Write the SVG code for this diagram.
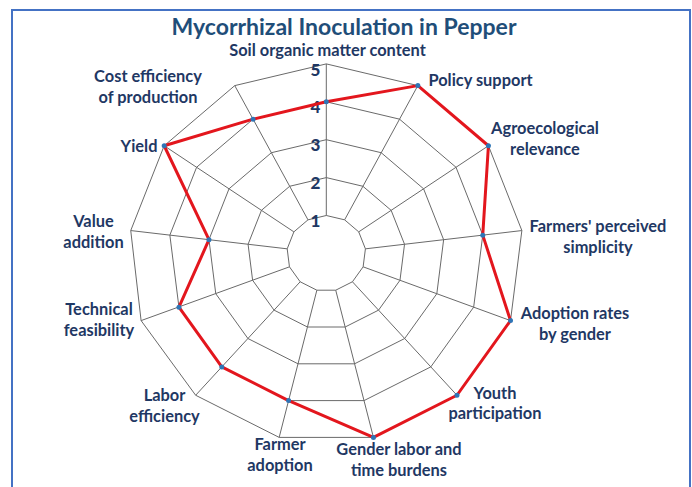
<svg xmlns="http://www.w3.org/2000/svg" width="692" height="487" viewBox="0 0 692 487">
<style>
.lbl{font-family:Lato,"Liberation Sans",sans-serif;font-weight:bold;font-size:16.4px;fill:#1F3864;text-anchor:middle}
.num{font-family:Lato,"Liberation Sans",sans-serif;font-weight:900;font-size:17px;fill:#1F3864;text-anchor:middle}
.title{font-family:Lato,"Liberation Sans",sans-serif;font-weight:bold;font-size:23px;fill:#1F4E79;text-anchor:middle}
.grid{fill:none;stroke:#6A6A6A;stroke-width:1}
.series{fill:none;stroke:#E3161D;stroke-width:3;stroke-linejoin:round}
.dot{fill:#2E75B6}
</style>
<rect x="0" y="0" width="692" height="487" fill="#ffffff"/>
<rect x="12" y="10" width="678" height="500" fill="#ffffff" stroke="#4472C4" stroke-width="2"/>
<text class="title" x="344" y="35">Mycorrhizal Inoculation in Pepper</text>
<g id="grid">
<polygon class="grid" points="326.3,215.5 344.61,219.84 358.73,231.87 365.41,248.83 363.14,266.84 352.43,281.77 335.73,290.2 316.87,290.2 300.17,281.77 289.46,266.84 287.19,248.83 293.88,231.87 307.99,219.84"/>
<polygon class="grid" points="326.3,177.6 362.92,186.28 391.15,210.34 404.53,244.26 399.98,280.28 378.55,310.14 345.16,327 307.44,327 274.05,310.14 252.62,280.28 248.07,244.26 261.45,210.34 289.68,186.28"/>
<polygon class="grid" points="326.3,139.7 381.23,152.72 423.58,188.81 443.64,239.7 436.82,293.72 404.68,338.51 354.59,363.8 298.01,363.8 247.92,338.51 215.78,293.72 208.96,239.7 229.03,188.81 271.37,152.72"/>
<polygon class="grid" points="326.3,101.8 399.54,119.16 456,167.28 482.75,235.13 473.66,307.16 430.81,366.88 364.02,400.6 288.58,400.6 221.79,366.88 178.94,307.16 169.85,235.13 196.6,167.28 253.06,119.16"/>
<polygon class="grid" points="326.3,63.9 417.85,85.61 488.43,145.76 521.87,230.56 510.5,320.6 456.94,395.25 373.45,437.4 279.16,437.4 195.67,395.25 141.1,320.6 130.74,230.56 164.18,145.76 234.75,85.61"/>
</g>
<g id="spokes">
<line class="grid" x1="326.3" y1="215.5" x2="326.3" y2="63.9"/>
<line class="grid" x1="344.61" y1="219.84" x2="417.85" y2="85.61"/>
<line class="grid" x1="358.73" y1="231.87" x2="488.43" y2="145.76"/>
<line class="grid" x1="365.41" y1="248.83" x2="521.87" y2="230.56"/>
<line class="grid" x1="363.14" y1="266.84" x2="510.5" y2="320.6"/>
<line class="grid" x1="352.43" y1="281.77" x2="456.94" y2="395.25"/>
<line class="grid" x1="335.73" y1="290.2" x2="373.45" y2="437.4"/>
<line class="grid" x1="316.87" y1="290.2" x2="279.16" y2="437.4"/>
<line class="grid" x1="300.17" y1="281.77" x2="195.67" y2="395.25"/>
<line class="grid" x1="289.46" y1="266.84" x2="141.1" y2="320.6"/>
<line class="grid" x1="287.19" y1="248.83" x2="130.74" y2="230.56"/>
<line class="grid" x1="293.88" y1="231.87" x2="164.18" y2="145.76"/>
<line class="grid" x1="307.99" y1="219.84" x2="234.75" y2="85.61"/>
</g>
<g id="scale">
<text class="num" x="315.5" y="76">5</text>
<text class="num" x="315.5" y="113">4</text>
<text class="num" x="315.5" y="151">3</text>
<text class="num" x="315.5" y="189">2</text>
<text class="num" x="315.5" y="227">1</text>
</g>
<g id="series">
<polygon class="series" points="326.3,101.8 417.85,85.61 488.43,145.76 482.75,235.13 510.5,320.6 456.94,395.25 373.45,437.4 288.58,400.6 221.79,366.88 178.94,307.16 208.96,239.7 164.18,145.76 253.06,119.16"/>
<circle class="dot" cx="326.3" cy="101.8" r="2.5"/>
<circle class="dot" cx="417.85" cy="85.61" r="2.5"/>
<circle class="dot" cx="488.43" cy="145.76" r="2.5"/>
<circle class="dot" cx="482.75" cy="235.13" r="2.5"/>
<circle class="dot" cx="510.5" cy="320.6" r="2.5"/>
<circle class="dot" cx="456.94" cy="395.25" r="2.5"/>
<circle class="dot" cx="373.45" cy="437.4" r="2.5"/>
<circle class="dot" cx="288.58" cy="400.6" r="2.5"/>
<circle class="dot" cx="221.79" cy="366.88" r="2.5"/>
<circle class="dot" cx="178.94" cy="307.16" r="2.5"/>
<circle class="dot" cx="208.96" cy="239.7" r="2.5"/>
<circle class="dot" cx="164.18" cy="145.76" r="2.5"/>
<circle class="dot" cx="253.06" cy="119.16" r="2.5"/>
</g>
<g id="label-soil"><text class="lbl" x="327.5" y="56">Soil organic matter content</text></g>
<g id="label-policy"><text class="lbl" x="480.5" y="86">Policy support</text></g>
<g id="label-agro"><text class="lbl" x="545" y="134">Agroecological</text><text class="lbl" x="545" y="155">relevance</text></g>
<g id="label-simplicity"><text class="lbl" x="598" y="232">Farmers' perceived</text><text class="lbl" x="598" y="253">simplicity</text></g>
<g id="label-adoption-gender"><text class="lbl" x="575" y="319">Adoption rates</text><text class="lbl" x="575" y="340">by gender</text></g>
<g id="label-youth"><text class="lbl" x="495" y="399">Youth</text><text class="lbl" x="495" y="419">participation</text></g>
<g id="label-gender-labor"><text class="lbl" x="399" y="455">Gender labor and</text><text class="lbl" x="399" y="476">time burdens</text></g>
<g id="label-farmer-adoption"><text class="lbl" x="280" y="450">Farmer</text><text class="lbl" x="280" y="471">adoption</text></g>
<g id="label-labor"><text class="lbl" x="164.5" y="401">Labor</text><text class="lbl" x="164.5" y="422">efficiency</text></g>
<g id="label-technical"><text class="lbl" x="99" y="315">Technical</text><text class="lbl" x="99" y="336">feasibility</text></g>
<g id="label-value"><text class="lbl" x="93.5" y="227">Value</text><text class="lbl" x="93.5" y="248">addition</text></g>
<g id="label-yield"><text class="lbl" x="139" y="152">Yield</text></g>
<g id="label-cost"><text class="lbl" x="148" y="82">Cost efficiency</text><text class="lbl" x="148" y="103">of production</text></g>
</svg>
